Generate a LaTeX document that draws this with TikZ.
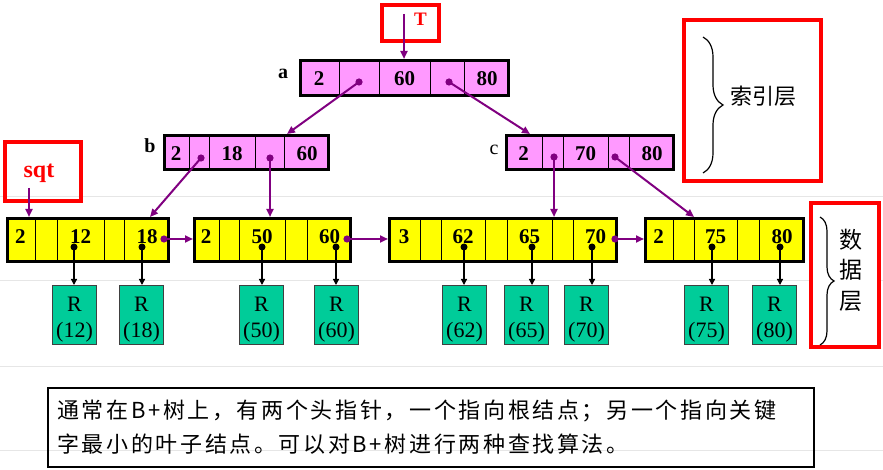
\documentclass[tikz,border=0pt]{standalone}
\usepackage{fontspec}
\setmainfont{Liberation Serif}
\newfontfamily\cjk{Noto Sans CJK SC}
\newfontfamily\cjkls[LetterSpace=12]{Noto Sans CJK SC}
\usetikzlibrary{arrows.meta,decorations.pathreplacing,calc}
\definecolor{pinkc}{HTML}{FF99FF}
\definecolor{yel}{HTML}{FFFF00}
\definecolor{tealc}{HTML}{00CC99}
\definecolor{purp}{HTML}{800080}
\definecolor{redc}{HTML}{FF0000}
\definecolor{gridc}{HTML}{E6E6E6}
\begin{document}
\begin{tikzpicture}[x=1pt,y=-1pt,
  rec/.style={draw=black, line width=3pt, inner sep=0pt, anchor=north west},
  div/.style={draw=black, line width=1pt},
  num/.style={font=\bfseries\fontsize{21}{21}\selectfont, anchor=base, inner sep=0pt},
  lab/.style={font=\bfseries\fontsize{20}{20}\selectfont, anchor=base, inner sep=0pt},
  redbox/.style={draw=redc, line width=4pt, inner sep=0pt, anchor=north west},
  parrow/.style={draw=purp, line width=2pt, -{Triangle[length=8pt,width=7pt]}},
  barrow/.style={draw=black, line width=1.3pt, -{Triangle[length=6pt,width=6pt]}},
  rbox/.style={draw=black!75, line width=1.2pt, fill=tealc, minimum width=43.8pt, minimum height=58.8pt, inner sep=0pt, anchor=north west},
  rtext/.style={font=\fontsize{22}{22}\selectfont, anchor=base, inner sep=0pt},
  lbrace/.style={decorate, decoration={brace, amplitude=#1}, line width=1.2pt, draw=black}
]
\useasboundingbox (0,0) rectangle (883,470);
% faint slide lines
\foreach \yy in {197,281,366,450} \draw[gridc, line width=1pt] (0,\yy) -- (883,\yy);

% ---------- index layer ----------
\node[rec, fill=pinkc, minimum width=208pt, minimum height=35pt] (a) at (299,59) {};
\foreach \xx in {339,379,430,464} \draw[div] (\xx,60) -- (\xx,96);
\node[num] (a1) at (319,86) {2};
\node[num] (a2) at (404.5,86) {60};
\node[num] (a3) at (487,86) {80};
\node[lab] (alab) at (283,79) {a};

\node[rec, fill=pinkc, minimum width=164pt, minimum height=34pt] (b) at (163,134) {};
\foreach \xx in {189,209,255,284} \draw[div] (\xx,135) -- (\xx,170);
\node[num] (b1) at (176,161) {2};
\node[num] (b2) at (232,161) {18};
\node[num] (b3) at (307,161) {60};
\node[lab] (blab) at (150,153) {b};

\node[rec, fill=pinkc, minimum width=167pt, minimum height=34pt] (c) at (505,134) {};
\foreach \xx in {542,563,608,629} \draw[div] (\xx,135) -- (\xx,170);
\node[num] (c1) at (523.5,161) {2};
\node[num] (c2) at (585.5,161) {70};
\node[num] (c3) at (652,161) {80};
\node[font=\fontsize{20}{20}\selectfont, anchor=base, inner sep=0pt] (clab) at (494,155) {c};

% ---------- leaves ----------
\node[rec, fill=yel, minimum width=161pt, minimum height=43pt] (l1) at (6,217) {};
\foreach \xx in {35,57,104,124} \draw[div] (\xx,218) -- (\xx,262);
\node[num] (l1a) at (20.5,244) {2};
\node[num] (l1b) at (80.5,244) {12};
\node[num] (l1c) at (147,244) {18};

\node[rec, fill=yel, minimum width=156pt, minimum height=43pt] (l2) at (193,217) {};
\foreach \xx in {219,239,285,307} \draw[div] (\xx,218) -- (\xx,262);
\node[num] (l2a) at (206,244) {2};
\node[num] (l2b) at (262,244) {50};
\node[num] (l2c) at (329.5,244) {60};

\node[rec, fill=yel, minimum width=227pt, minimum height=43pt] (l3) at (388,217) {};
\foreach \xx in {420,441,485,507,552,573} \draw[div] (\xx,218) -- (\xx,262);
\node[num] (l3a) at (404,244) {3};
\node[num] (l3b) at (463,244) {62};
\node[num] (l3c) at (529.5,244) {65};
\node[num] (l3d) at (595.5,244) {70};

\node[rec, fill=yel, minimum width=158pt, minimum height=43pt] (l4) at (644,217) {};
\foreach \xx in {673,694,737,759} \draw[div] (\xx,218) -- (\xx,262);
\node[num] (l4a) at (658.5,244) {2};
\node[num] (l4b) at (715.5,244) {75};
\node[num] (l4c) at (782,244) {80};

% ---------- head pointers ----------
\node[redbox, minimum width=57pt, minimum height=36pt] (tbox) at (380,3) {};
\node[font=\bfseries\fontsize{19}{19}\selectfont, text=redc, anchor=base, inner sep=0pt] (tlab) at (420.5,26) {T};
\node[redbox, minimum width=76pt, minimum height=59pt] (sbox) at (3,140) {};
\node[font=\bfseries\fontsize{24}{24}\selectfont, text=redc, anchor=base, inner sep=0pt] (slab) at (39,178) {sqt};

% ---------- purple pointers ----------
\coordinate (ts) at (404,14);
\coordinate (ss) at (29,188);
\coordinate (ap1) at (359,82);
\coordinate (ap2) at (449,82);
\coordinate (bp1) at (201,158);
\coordinate (bp2) at (270,158);
\coordinate (cp1) at (554,157);
\coordinate (cp2) at (615,157);
\coordinate (lp1) at (164,239);
\coordinate (lp2) at (347,239);
\coordinate (lp3) at (615,239);
\foreach \p in {ap1,ap2,bp1,bp2,cp1,cp2,lp1,lp2,lp3} \fill[purp] (\p) circle (3.6);
\draw[parrow] (ts) -- (ts |- a.north);
\draw[parrow] (ss) -- (ss |- l1.north);
\draw[parrow] (ap1) -- ([xshift=124pt]b.north west);
\draw[parrow] (ap2) -- ([xshift=25pt]c.north west);
\draw[parrow] (bp1) -- ([xshift=144pt]l1.north west);
\draw[parrow] (bp2) -- (bp2 |- l2.north);
\draw[parrow] (cp1) -- (cp1 |- l3.north);
\draw[parrow] (cp2) -- ([xshift=50pt]l4.north west);
\draw[parrow] (lp1) -- (lp1 -| l2.west);
\draw[parrow] (lp2) -- (lp2 -| l3.west);
\draw[parrow] (lp3) -- (lp3 -| l4.west);

% ---------- records ----------
\foreach \n/\x/\k/\d in {1/52/12/74, 2/119/18/142, 3/239/50/262, 4/314/60/336, 5/442/62/464, 6/504/65/532, 7/564/70/592, 8/684/75/712, 9/752/80/780} {
  \node[rbox] (r\n) at (\x,285) {};
  \node[rtext] (rR\n) at (\x+22.5,311) {R};
  \node[rtext] (rk\n) at (\x+22.5,337) {(\k)};
  \coordinate (d\n) at (\d,247);
  \fill[black] (d\n) circle (3.5);
  \draw[barrow] (d\n) -- (d\n |- r\n.north);
}

% ---------- layer labels ----------
\node[redbox, minimum width=137pt, minimum height=161pt] (ibox) at (682,18) {};
\draw[lbrace=20pt] (703,37) -- (703,173);
\node[font=\cjk\fontsize{22}{22}\selectfont, inner sep=0pt] (ilab) at (763,96) {索引层};

\node[redbox, fill=white, minimum width=68pt, minimum height=144pt] (dbox) at (809,201) {};
\draw[lbrace=14pt] (820,217) -- (820,345);
\node[font=\cjk\fontsize{23}{30.5}\selectfont, align=center, inner sep=0pt] (dlab) at (851,270) {数\\据\\层};

% ---------- note ----------
\node[draw=black, line width=2pt, inner sep=0pt, anchor=north west, minimum width=766pt, minimum height=79pt] (note) at (47,387) {};
\node[font=\cjkls\fontsize{22}{22}\selectfont, anchor=base west, inner sep=0pt] (t1) at (57,418) {通常在B+树上，有两个头指针，一个指向根结点；另一个指向关键};
\node[font=\cjkls\fontsize{22}{22}\selectfont, anchor=base west, inner sep=0pt] (t2) at (57,452) {字最小的叶子结点。可以对B+树进行两种查找算法。};
\end{tikzpicture}
\end{document}
